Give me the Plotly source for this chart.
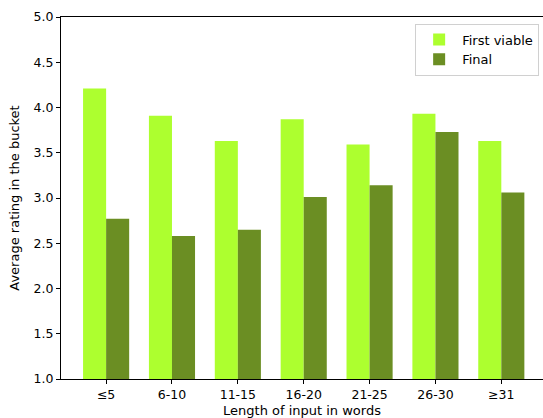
import plotly.graph_objects as go

categories = ["≤5", "6-10", "11-15", "16-20", "21-25", "26-30", "≥31"]
first_viable = [4.21, 3.91, 3.63, 3.87, 3.59, 3.93, 3.63]
final = [2.77, 2.58, 2.65, 3.01, 3.14, 3.73, 3.06]
y_ticks = [1.0, 1.5, 2.0, 2.5, 3.0, 3.5, 4.0, 4.5, 5.0]

tick_font = dict(family="DejaVu Sans", size=12.5, color="#000000")
title_font = dict(family="DejaVu Sans", size=13, color="#000000")

fig = go.Figure()
fig.add_trace(go.Bar(x=categories, y=first_viable, name="First viable",
                     marker=dict(color="#ADFF2F", line=dict(width=0))))
fig.add_trace(go.Bar(x=categories, y=final, name="Final",
                     marker=dict(color="#6B8E23", line=dict(width=0))))

fig.update_layout(
    width=543, height=418,
    margin=dict(l=61, r=0, t=17, b=39, autoexpand=False),
    plot_bgcolor="white", paper_bgcolor="white",
    barmode="group", bargap=0.3, bargroupgap=0,
    font=tick_font,
    legend=dict(x=0.992, xanchor="right", y=0.982, yanchor="top",
                bgcolor="white", bordercolor="#d0d0d0", borderwidth=1,
                font=dict(family="DejaVu Sans", size=13, color="#000000"),
                itemwidth=36, tracegroupgap=2),
    xaxis=dict(
        type="category", range=[-0.685, 6.633],
        showline=True, linecolor="black", linewidth=1, mirror=True,
        ticks="outside", ticklen=4, tickcolor="black",
        tickfont=tick_font,
        showgrid=False, zeroline=False,
        title=dict(text="Length of input in words", standoff=17, font=title_font),
    ),
    yaxis=dict(
        range=[1, 5], tickvals=y_ticks,
        ticktext=[f"{v:.1f}" for v in y_ticks],
        showline=True, linecolor="black", linewidth=1,
        ticks="outside", ticklen=4, tickcolor="black",
        tickfont=tick_font,
        showgrid=False, zeroline=False,
        title=dict(text="Average rating in the bucket", standoff=11, font=title_font),
    ),
)

fig.write_html(
    "out.html",
    config={"displayModeBar": False},
    post_script="document.body.style.margin='0';document.body.style.overflow='hidden';",
)
